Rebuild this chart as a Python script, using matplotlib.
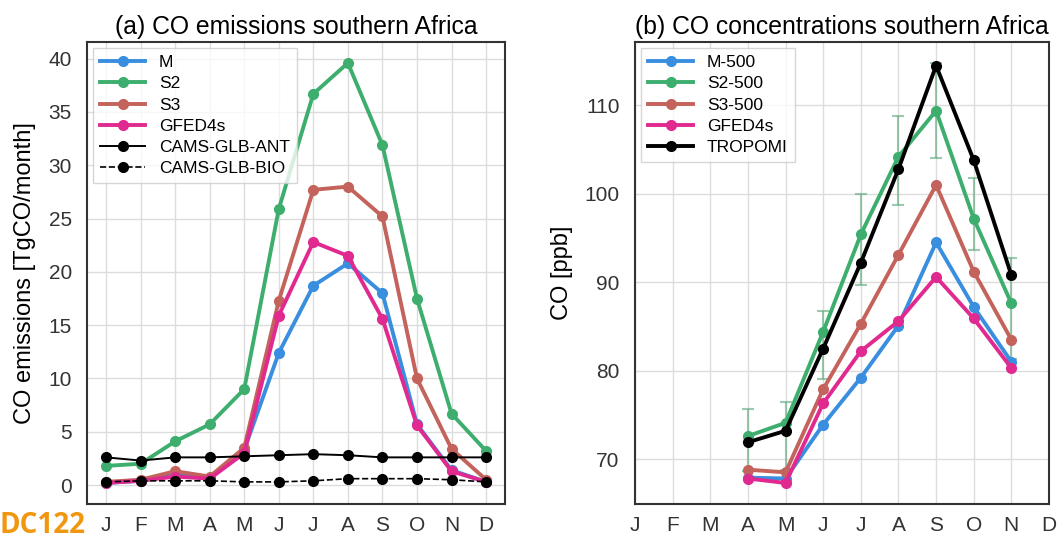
import matplotlib
matplotlib.use("Agg")
import matplotlib.pyplot as plt
import numpy as np

plt.rcParams["font.family"] = ["Liberation Sans", "DejaVu Sans"]

months = ["J", "F", "M", "A", "M", "J", "J", "A", "S", "O", "N", "D"]

# (a) emissions [TgCO/month], Jan..Dec
emis_m = [0.2, 0.4, 1.0, 0.7, 3.3, 12.4, 18.7, 20.8, 18.0, 5.7, 1.4, 0.3]
emis_s2 = [1.8, 2.0, 4.1, 5.7, 9.0, 25.9, 36.7, 39.6, 31.9, 17.5, 6.7, 3.2]
emis_s3 = [0.3, 0.5, 1.3, 0.8, 3.5, 17.3, 27.7, 28.0, 25.2, 10.0, 3.4, 0.5]
emis_gfed = [0.2, 0.4, 0.8, 0.6, 3.0, 15.9, 22.8, 21.5, 15.6, 5.6, 1.3, 0.3]
emis_ant = [2.6, 2.3, 2.6, 2.6, 2.7, 2.8, 2.9, 2.8, 2.6, 2.6, 2.6, 2.6]
emis_bio = [0.3, 0.4, 0.4, 0.4, 0.3, 0.3, 0.4, 0.6, 0.6, 0.6, 0.5, 0.3]

# (b) concentrations [ppb], Apr..Nov
conc_idx = [3, 4, 5, 6, 7, 8, 9, 10]
conc_m = [67.9, 67.8, 73.9, 79.2, 85.1, 94.5, 87.2, 81.0]
conc_s2 = [72.6, 74.1, 84.4, 95.4, 104.2, 109.4, 97.2, 87.6]
conc_s3 = [68.8, 68.5, 77.9, 85.3, 93.1, 101.0, 91.2, 83.5]
conc_gfed = [67.8, 67.3, 76.3, 82.2, 85.6, 90.6, 85.9, 80.3]
conc_tropomi = [71.9, 73.2, 82.5, 92.2, 102.8, 114.5, 103.8, 90.8]
s2_err_hi = [75.7, 76.4, 86.7, 100.0, 108.8, 114.8, 101.8, 92.7]
s2_err_lo = [68.7, 68.8, 79.1, 89.7, 98.7, 104.1, 93.7, 81.3]

c_m = "#3a8ee0"
c_s2 = "#3dae6e"
c_s3 = "#c4625c"
c_gfed = "#e02a90"

fig = plt.figure(figsize=(10.64, 5.38), dpi=100)
ax1 = fig.add_axes([0.0818, 0.0633, 0.3929, 0.8587])
ax2 = fig.add_axes([0.5968, 0.0633, 0.3891, 0.8587])

x = np.arange(12)
kw = dict(marker="o", ms=7, lw=2.8)
ax1.plot(x, emis_m, color=c_m, label="M", **kw)
ax1.plot(x, emis_s2, color=c_s2, label="S2", **kw)
ax1.plot(x, emis_s3, color=c_s3, label="S3", **kw)
ax1.plot(x, emis_gfed, color=c_gfed, label="GFED4s", **kw)
ax1.plot(x, emis_ant, color="black", marker="o", ms=7, lw=1.4, label="CAMS-GLB-ANT")
ax1.plot(x, emis_bio, color="black", marker="o", ms=7, lw=1.2, ls="--",
         label="CAMS-GLB-BIO")
ax1.set_yticks(np.arange(0, 41, 5))
ax1.set_ylabel("CO emissions [TgCO/month]", fontsize=17, labelpad=9)
ax1.set_title("(a) CO emissions southern Africa", fontsize=17.8, pad=6)

xc = np.array(conc_idx)
s2 = np.array(conc_s2)
ax2.errorbar(xc, s2, yerr=[s2 - np.array(s2_err_lo), np.array(s2_err_hi) - s2],
             fmt="none", ecolor="#5aa878", alpha=0.6, elinewidth=1.5, capsize=4,
             capthick=1.5)
ax2.plot(xc, conc_m, color=c_m, label="M-500", **kw)
ax2.plot(xc, conc_s2, color=c_s2, label="S2-500", **kw)
ax2.plot(xc, conc_s3, color=c_s3, label="S3-500", **kw)
ax2.plot(xc, conc_gfed, color=c_gfed, label="GFED4s", **kw)
ax2.plot(xc, conc_tropomi, color="black", label="TROPOMI", **kw)
ax2.set_xlim(0, 11)
ax2.set_yticks([70, 80, 90, 100, 110])
ax2.set_ylabel("CO [ppb]", fontsize=17, labelpad=8)
ax2.set_title("(b) CO concentrations southern Africa", fontsize=17.8, pad=6)

for ax in (ax1, ax2):
    ax.set_xticks(x)
    ax.set_xticklabels(months)
    ax.tick_params(length=0, pad=11, labelsize=15, colors="#333333")
    ax.tick_params(axis="x", pad=9)
    ax.grid(True, color="#dcdcdc", lw=1)
    ax.set_axisbelow(True)
    for s in ax.spines.values():
        s.set_color("#333333")
        s.set_linewidth(1.5)
    ax.legend(loc="upper left", fontsize=12.5, handlelength=2.6,
              labelspacing=0.35, borderaxespad=0.35, frameon=True,
              edgecolor="#cccccc", fancybox=False)

fig.text(0.0, 0.01, "DC122", fontsize=20, fontweight="bold",
         color="#f0960f", family=["Open Sans", "DejaVu Sans"])

fig.savefig("out.png", dpi=100)
